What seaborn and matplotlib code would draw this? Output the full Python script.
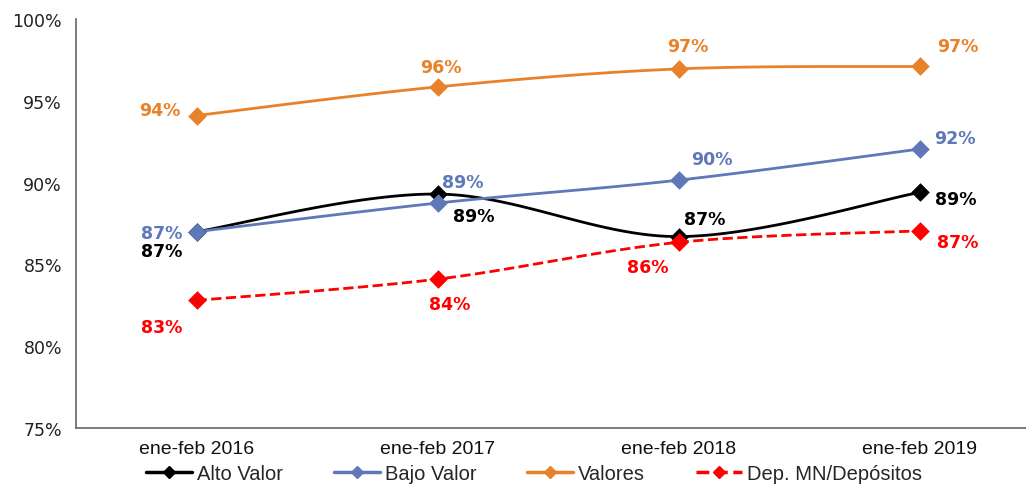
import numpy as np
import pandas as pd
import matplotlib
matplotlib.use("Agg")
import matplotlib.pyplot as plt
from matplotlib.lines import Line2D
import seaborn as sns

# datos (en %)
periodos = ["ene-feb 2016", "ene-feb 2017", "ene-feb 2018", "ene-feb 2019"]
alto_valor = [87.0, 89.3, 86.7, 89.4]
bajo_valor = [87.0, 88.75, 90.15, 92.05]
valores = [94.1, 95.85, 96.95, 97.1]
dep_mn = [82.8, 84.1, 86.35, 87.05]

sns.set_theme(style="white")
plt.rcParams["font.family"] = ["Liberation Sans", "DejaVu Sans"]


def suavizar(xs, ys, n=40):
    # curva suavizada tipo Excel (Bezier / Catmull-Rom)
    pts = np.column_stack([xs, ys]).astype(float)
    out = []
    for i in range(len(pts) - 1):
        p0 = pts[max(i - 1, 0)]
        p1 = pts[i]
        p2 = pts[i + 1]
        p3 = pts[min(i + 2, len(pts) - 1)]
        c1 = p1 + (p2 - p0) / 6
        c2 = p2 - (p3 - p1) / 6
        t = np.linspace(0, 1, n)[:, None]
        seg = (1 - t) ** 3 * p1 + 3 * (1 - t) ** 2 * t * c1 + 3 * (1 - t) * t ** 2 * c2 + t ** 3 * p2
        out.append(seg if i == 0 else seg[1:])
    out = np.vstack(out)
    return out[:, 0], out[:, 1]


series = [
    ("Alto Valor", alto_valor, "#000000", "-",
     [(-35, -19), (36, -22), (26, 18), (36, -7)]),
    ("Bajo Valor", bajo_valor, "#5E78B8", "-",
     [(-35, -1), (25, 21), (33, 21), (35, 11)]),
    ("Valores", valores, "#E8822A", "-",
     [(-37, 6), (3, 20), (9, 23), (38, 20)]),
    ("Dep. MN/Depósitos", dep_mn, "#FF0000", "--",
     [(-35, -27), (12, -25), (-31, -25), (38, -11)]),
]

fig = plt.figure(figsize=(10.26, 4.85), dpi=100)
ax = fig.add_axes([76 / 1026, 56 / 485, 964 / 1026, 409 / 485])

x = np.arange(len(periodos))
handles = []
for nombre, vals, color, ls, offs in series:
    xs, ys = suavizar(x, vals)
    df = pd.DataFrame({"x": xs, "y": ys})
    sns.lineplot(data=df, x="x", y="y", ax=ax, color=color, linestyle=ls,
                 linewidth=2, sort=False, estimator=None)
    sns.scatterplot(x=x, y=vals, ax=ax, color=color, marker="D", s=90,
                    edgecolor=color, linewidth=0, zorder=5)
    for xi, v, (dx, dy) in zip(x, vals, offs):
        ax.annotate(f"{v:.0f}%", (xi, v), xytext=(dx, dy), textcoords="offset pixels",
                    ha="center", va="center", color=color, fontsize=12.5,
                    fontweight="bold", family="DejaVu Sans")
    handles.append(Line2D([], [], color=color, linestyle=ls, linewidth=2.5,
                          marker="D", markersize=6, label=nombre))

ax.set_xlim(-0.5, 3.5)
ax.set_ylim(75, 100)
ax.set_yticks([75, 80, 85, 90, 95, 100])
ax.set_yticklabels([f"{v}%" for v in [75, 80, 85, 90, 95, 100]],
                   family="DejaVu Sans", fontsize=12.5, color="#222222")
ax.set_xticks(x)
ax.set_xticklabels(periodos, fontsize=14, color="#111111")
ax.set_xticks([0.5, 1.5, 2.5], minor=True)
ax.tick_params(axis="x", which="major", length=0, pad=9)
ax.tick_params(axis="x", which="minor", length=5, width=1, color="#666666", direction="out")
ax.tick_params(axis="y", length=6, width=1, color="#666666", direction="out", pad=4)
ax.set_xlabel("")
ax.set_ylabel("")

for s in ["top", "right"]:
    ax.spines[s].set_visible(False)
for s in ["left", "bottom"]:
    ax.spines[s].set_color("#666666")
    ax.spines[s].set_linewidth(1.2)

ax.legend(handles=handles, loc="center", bbox_to_anchor=(0.475, -0.112),
          ncol=4, frameon=False, fontsize=14.5, handlelength=2.3, columnspacing=2.5,
          handletextpad=0.25, borderpad=0.1)

fig.savefig("out.png", dpi=100)
